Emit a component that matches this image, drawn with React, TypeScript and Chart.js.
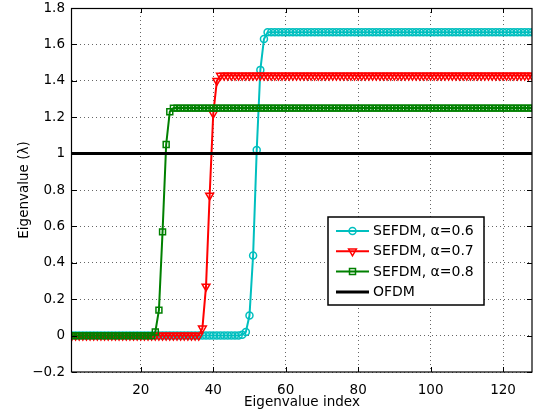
import React, { useEffect, useRef } from "react";
import { Chart, registerables } from "chart.js";

Chart.register(...registerables);

// ---------- data ----------
const eigenIndex: number[] = Array.from({ length: 128 }, (_, i) => i + 1);

const sefdm06: number[] = [
  0, 0, 0, 0, 0, 0, 0, 0, 0, 0, 0, 0, 0, 0, 0, 0,
  0, 0, 0, 0, 0, 0, 0, 0, 0, 0, 0, 0, 0, 0, 0, 0,
  0, 0, 0, 0, 0, 0, 0, 0, 0, 0, 0, 0, 0, 0, 0, 0.005,
  0.02, 0.11, 0.44, 1.02, 1.46, 1.63, 1.667, 1.667, 1.667, 1.667, 1.667, 1.667, 1.667, 1.667, 1.667, 1.667,
  1.667, 1.667, 1.667, 1.667, 1.667, 1.667, 1.667, 1.667, 1.667, 1.667, 1.667, 1.667, 1.667, 1.667, 1.667, 1.667,
  1.667, 1.667, 1.667, 1.667, 1.667, 1.667, 1.667, 1.667, 1.667, 1.667, 1.667, 1.667, 1.667, 1.667, 1.667, 1.667,
  1.667, 1.667, 1.667, 1.667, 1.667, 1.667, 1.667, 1.667, 1.667, 1.667, 1.667, 1.667, 1.667, 1.667, 1.667, 1.667,
  1.667, 1.667, 1.667, 1.667, 1.667, 1.667, 1.667, 1.667, 1.667, 1.667, 1.667, 1.667, 1.667, 1.667, 1.667, 1.667,
];

const sefdm07: number[] = [
  0, 0, 0, 0, 0, 0, 0, 0, 0, 0, 0, 0, 0, 0, 0, 0,
  0, 0, 0, 0, 0, 0, 0, 0, 0, 0, 0, 0, 0, 0, 0, 0,
  0, 0, 0, 0, 0.04, 0.27, 0.77, 1.22, 1.4, 1.429, 1.429, 1.429, 1.429, 1.429, 1.429, 1.429,
  1.429, 1.429, 1.429, 1.429, 1.429, 1.429, 1.429, 1.429, 1.429, 1.429, 1.429, 1.429, 1.429, 1.429, 1.429, 1.429,
  1.429, 1.429, 1.429, 1.429, 1.429, 1.429, 1.429, 1.429, 1.429, 1.429, 1.429, 1.429, 1.429, 1.429, 1.429, 1.429,
  1.429, 1.429, 1.429, 1.429, 1.429, 1.429, 1.429, 1.429, 1.429, 1.429, 1.429, 1.429, 1.429, 1.429, 1.429, 1.429,
  1.429, 1.429, 1.429, 1.429, 1.429, 1.429, 1.429, 1.429, 1.429, 1.429, 1.429, 1.429, 1.429, 1.429, 1.429, 1.429,
  1.429, 1.429, 1.429, 1.429, 1.429, 1.429, 1.429, 1.429, 1.429, 1.429, 1.429, 1.429, 1.429, 1.429, 1.429, 1.429,
];

const sefdm08: number[] = [
  0, 0, 0, 0, 0, 0, 0, 0, 0, 0, 0, 0, 0, 0, 0, 0,
  0, 0, 0, 0, 0, 0, 0, 0.02, 0.14, 0.57, 1.05, 1.23, 1.25, 1.25, 1.25, 1.25,
  1.25, 1.25, 1.25, 1.25, 1.25, 1.25, 1.25, 1.25, 1.25, 1.25, 1.25, 1.25, 1.25, 1.25, 1.25, 1.25,
  1.25, 1.25, 1.25, 1.25, 1.25, 1.25, 1.25, 1.25, 1.25, 1.25, 1.25, 1.25, 1.25, 1.25, 1.25, 1.25,
  1.25, 1.25, 1.25, 1.25, 1.25, 1.25, 1.25, 1.25, 1.25, 1.25, 1.25, 1.25, 1.25, 1.25, 1.25, 1.25,
  1.25, 1.25, 1.25, 1.25, 1.25, 1.25, 1.25, 1.25, 1.25, 1.25, 1.25, 1.25, 1.25, 1.25, 1.25, 1.25,
  1.25, 1.25, 1.25, 1.25, 1.25, 1.25, 1.25, 1.25, 1.25, 1.25, 1.25, 1.25, 1.25, 1.25, 1.25, 1.25,
  1.25, 1.25, 1.25, 1.25, 1.25, 1.25, 1.25, 1.25, 1.25, 1.25, 1.25, 1.25, 1.25, 1.25, 1.25, 1.25,
];

const ofdmIndex: number[] = [1, 128];
const ofdmValues: number[] = [1, 1];

const xTicks: number[] = [20, 40, 60, 80, 100, 120];
const yTicks: number[] = [-0.2, 0, 0.2, 0.4, 0.6, 0.8, 1, 1.2, 1.4, 1.6, 1.8];

const seriesLabels = ["SEFDM, \u03b1=0.6", "SEFDM, \u03b1=0.7", "SEFDM, \u03b1=0.8", "OFDM"];

const FONT = "'DejaVu Sans', 'Liberation Sans', Arial, sans-serif";

const toPoints = (xs: number[], ys: number[]) => ys.map((y, i) => ({ x: xs[i], y }));

function drawMarker(ctx: CanvasRenderingContext2D, kind: string, x: number, y: number, color: string) {
  ctx.save();
  ctx.strokeStyle = color;
  ctx.lineWidth = 1.5;
  ctx.beginPath();
  if (kind === "circle") {
    ctx.arc(x, y, 3.5, 0, Math.PI * 2);
  } else if (kind === "tri") {
    const r = 4.5;
    ctx.moveTo(x, y + r);
    ctx.lineTo(x - r * 0.866, y - r * 0.5);
    ctx.lineTo(x + r * 0.866, y - r * 0.5);
    ctx.closePath();
  } else if (kind === "rect") {
    ctx.rect(x - 3, y - 3, 6, 6);
  }
  ctx.stroke();
  ctx.restore();
}

const framePlugin = {
  id: "frameAndLegend",
  afterDraw(chart: any) {
    const { ctx, chartArea } = chart;
    const { left, right, top, bottom } = chartArea;
    const xs = chart.scales.x;
    const ys = chart.scales.y;
    ctx.save();
    // inward ticks
    ctx.strokeStyle = "#000";
    ctx.lineWidth = 1;
    ctx.beginPath();
    xTicks.forEach((v) => {
      const px = Math.round(xs.getPixelForValue(v)) + 0.5;
      ctx.moveTo(px, bottom);
      ctx.lineTo(px, bottom - 5);
      ctx.moveTo(px, top);
      ctx.lineTo(px, top + 5);
    });
    yTicks.forEach((v) => {
      const py = Math.round(ys.getPixelForValue(v)) + 0.5;
      ctx.moveTo(left, py);
      ctx.lineTo(left + 5, py);
      ctx.moveTo(right, py);
      ctx.lineTo(right - 5, py);
    });
    ctx.stroke();
    // box
    ctx.lineWidth = 1.2;
    ctx.strokeRect(Math.round(left) - 0.5, Math.round(top) + 0.5, Math.round(right - left) + 0.5, Math.round(bottom - top) - 0.5);

    // legend
    const lx = left + 256;
    const ly = top + 209;
    const lw = 156;
    const lh = 88;
    ctx.fillStyle = "#fff";
    ctx.fillRect(lx, ly, lw, lh);
    ctx.strokeStyle = "#000";
    ctx.lineWidth = 1.5;
    ctx.strokeRect(lx, ly, lw, lh);
    const kinds = ["circle", "tri", "rect", "none"];
    const order = [0, 1, 2, 3];
    ctx.font = `14px ${FONT}`;
    ctx.textBaseline = "middle";
    ctx.textAlign = "left";
    order.forEach((di, row) => {
      const ds = chart.data.datasets[di];
      const cy = ly + 14 + row * 20.3;
      ctx.strokeStyle = ds.borderColor;
      ctx.lineWidth = ds.borderWidth;
      ctx.beginPath();
      ctx.moveTo(lx + 8, cy);
      ctx.lineTo(lx + 41, cy);
      ctx.stroke();
      if (kinds[row] !== "none") drawMarker(ctx, kinds[row], lx + 24.5, cy, ds.borderColor);
      ctx.fillStyle = "#000";
      ctx.fillText(ds.label, lx + 45, cy + 0.5);
    });
    ctx.restore();
  },
};

export default function App() {
  const canvasRef = useRef<HTMLCanvasElement | null>(null);

  useEffect(() => {
    if (!canvasRef.current) return;
    const chart = new Chart(canvasRef.current, {
      type: "line",
      data: {
        datasets: [
          {
            label: seriesLabels[0],
            data: toPoints(eigenIndex, sefdm06),
            borderColor: "#00BFBF",
            backgroundColor: "transparent",
            borderWidth: 2,
            pointStyle: "circle",
            pointRadius: 3.5,
            pointBorderWidth: 1.5,
            pointBackgroundColor: "transparent",
            pointBorderColor: "#00BFBF",
            order: 3,
          },
          {
            label: seriesLabels[1],
            data: toPoints(eigenIndex, sefdm07),
            borderColor: "#FF0000",
            backgroundColor: "transparent",
            borderWidth: 2,
            pointStyle: "triangle",
            pointRotation: 180,
            pointRadius: 4.5,
            pointBorderWidth: 1.5,
            pointBackgroundColor: "transparent",
            pointBorderColor: "#FF0000",
            order: 2,
          },
          {
            label: seriesLabels[2],
            data: toPoints(eigenIndex, sefdm08),
            borderColor: "#008000",
            backgroundColor: "transparent",
            borderWidth: 2,
            pointStyle: "rect",
            pointRadius: 4.2,
            pointBorderWidth: 1.5,
            pointBackgroundColor: "transparent",
            pointBorderColor: "#008000",
            order: 1,
          },
          {
            label: seriesLabels[3],
            data: toPoints(ofdmIndex, ofdmValues),
            borderColor: "#000000",
            backgroundColor: "transparent",
            borderWidth: 3,
            pointRadius: 0,
            order: 0,
          },
        ],
      },
      options: {
        responsive: false,
        animation: false,
        devicePixelRatio: 1,
        layout: { padding: { left: 0, right: 10, top: 8, bottom: 0 } },
        plugins: {
          legend: { display: false },
          tooltip: { enabled: false },
        },
        elements: { line: { tension: 0 } },
        scales: {
          x: {
            type: "linear",
            min: 1,
            max: 128,
            afterBuildTicks: (scale: any) => {
              scale.ticks = xTicks.map((v) => ({ value: v }));
            },
            afterFit: (scale: any) => {
              scale.height = 44;
              scale.paddingLeft = 0;
              scale.paddingRight = 0;
            },
            grid: { display: true, drawTicks: false, color: "rgba(0,0,0,0.6)", lineWidth: 1 },
            border: { display: false, dash: [1, 3] },
            ticks: {
              color: "#000",
              padding: 10,
              maxRotation: 0,
              font: { family: FONT, size: 13.5 },
              callback: (v: any) => String(v),
            },
            title: {
              display: true,
              text: "Eigenvalue index",
              color: "#000",
              font: { family: FONT, size: 13.5 },
              padding: { top: 0, bottom: 5 },
            },
          },
          y: {
            type: "linear",
            min: -0.2,
            max: 1.8,
            afterBuildTicks: (scale: any) => {
              scale.ticks = yTicks.map((v) => ({ value: v }));
            },
            afterFit: (scale: any) => {
              scale.width = 72;
              scale.paddingTop = 0;
              scale.paddingBottom = 0;
            },
            grid: { display: true, drawTicks: false, color: "rgba(0,0,0,0.6)", lineWidth: 1 },
            border: { display: false, dash: [1, 3] },
            ticks: {
              color: "#000",
              padding: 7,
              font: { family: FONT, size: 13.5 },
              callback: (v: any) => {
                const r = Math.round(Number(v) * 10) / 10;
                return r < 0 ? "\u2212" + String(-r) : String(r);
              },
            },
            title: {
              display: true,
              text: "Eigenvalue (\u03bb)",
              color: "#000",
              font: { family: FONT, size: 13.5 },
              padding: { top: 16, bottom: 0 },
            },
          },
        },
      },
      plugins: [framePlugin],
    } as any);
    return () => chart.destroy();
  }, []);

  return (
    <div style={{ position: "absolute", left: 0, top: 0, width: 542, height: 416, background: "#fff" }}>
      <canvas ref={canvasRef} width={542} height={416} />
    </div>
  );
}
